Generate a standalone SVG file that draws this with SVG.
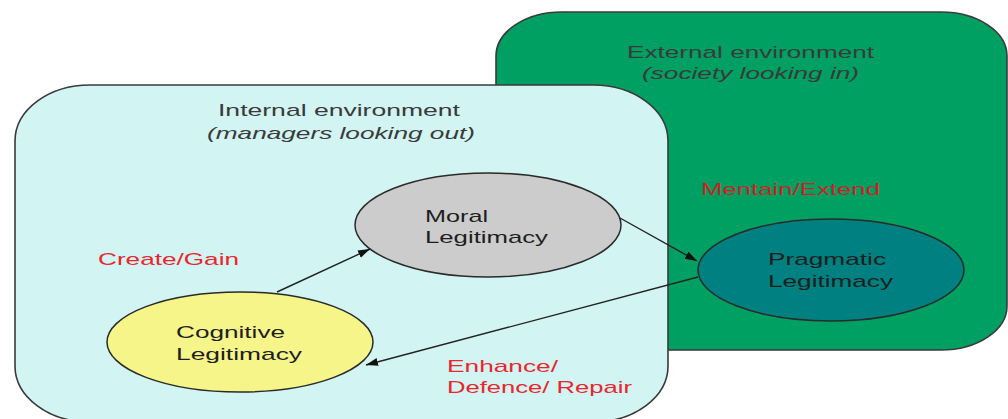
<svg xmlns="http://www.w3.org/2000/svg" width="1008" height="419" viewBox="0 0 1008 419">
<style>
.env{stroke:#3a3a3a;stroke-width:1.6}
.node{stroke:#2a2a2a;stroke-width:1.5}
.lbl{font-family:"Liberation Sans",Arial,sans-serif;font-size:17px;fill:#3a3a3a}
.it{font-style:italic}
.ntxt{font-family:"Liberation Sans",Arial,sans-serif;font-size:17px;fill:#1e1e1e}
.red{font-family:"Liberation Sans",Arial,sans-serif;font-size:17px;fill:#e8262e}
.conn{stroke:#222;stroke-width:1.4;fill:none;marker-end:url(#ah)}
</style>
<defs>
<marker id="ah" markerUnits="userSpaceOnUse" markerWidth="13" markerHeight="9" refX="12" refY="4" orient="auto">
<path d="M0,0 L12,4 L0,8 z" fill="#111"/>
</marker>
</defs>
<rect width="1008" height="419" fill="#ffffff"/>
<g id="external">
<rect class="env" x="496" y="12" width="511" height="338" rx="66" ry="44" fill="#00a062"/>
<text class="lbl" x="627" y="58" textLength="247" lengthAdjust="spacingAndGlyphs">External environment</text>
<text class="lbl it" x="642" y="79" textLength="217" lengthAdjust="spacingAndGlyphs">(society looking in)</text>
</g>
<g id="internal">
<rect class="env" x="15" y="85" width="653" height="337" rx="75" ry="56" fill="#d2f4f2"/>
<text class="lbl" x="218" y="116" textLength="242" lengthAdjust="spacingAndGlyphs">Internal environment</text>
<text class="lbl it" x="207" y="139" textLength="268" lengthAdjust="spacingAndGlyphs">(managers looking out)</text>
</g>
<g id="label-mentain">
<text class="red" x="701" y="195" textLength="179" lengthAdjust="spacingAndGlyphs" style="fill:#d11f24">Mentain/Extend</text>
</g>
<g id="label-create">
<text class="red" x="98" y="265" textLength="141" lengthAdjust="spacingAndGlyphs">Create/Gain</text>
</g>
<g id="label-enhance">
<text class="red" x="447" y="372" textLength="111" lengthAdjust="spacingAndGlyphs">Enhance/</text>
<text class="red" x="447" y="393" textLength="185" lengthAdjust="spacingAndGlyphs">Defence/ Repair</text>
</g>
<g id="moral">
<ellipse class="node" cx="488" cy="225" rx="133" ry="52" fill="#cccccc"/>
<text class="ntxt" x="425" y="222" textLength="63" lengthAdjust="spacingAndGlyphs">Moral</text>
<text class="ntxt" x="425" y="243" textLength="123" lengthAdjust="spacingAndGlyphs">Legitimacy</text>
</g>
<g id="pragmatic">
<ellipse class="node" cx="831" cy="270" rx="133" ry="51" fill="#008080"/>
<text class="ntxt" x="768" y="265" textLength="118" lengthAdjust="spacingAndGlyphs">Pragmatic</text>
<text class="ntxt" x="768" y="287" textLength="125" lengthAdjust="spacingAndGlyphs">Legitimacy</text>
</g>
<g id="cognitive">
<ellipse class="node" cx="240" cy="342" rx="133" ry="50" fill="#f5f58a"/>
<text class="ntxt" x="176" y="338" textLength="109" lengthAdjust="spacingAndGlyphs">Cognitive</text>
<text class="ntxt" x="176" y="360" textLength="126" lengthAdjust="spacingAndGlyphs">Legitimacy</text>
</g>
<g id="connectors">
<line class="conn" x1="277" y1="292" x2="370" y2="249"/>
<line class="conn" x1="620" y1="218" x2="697" y2="261"/>
<line class="conn" x1="698" y1="277" x2="366" y2="365"/>
</g>
</svg>
